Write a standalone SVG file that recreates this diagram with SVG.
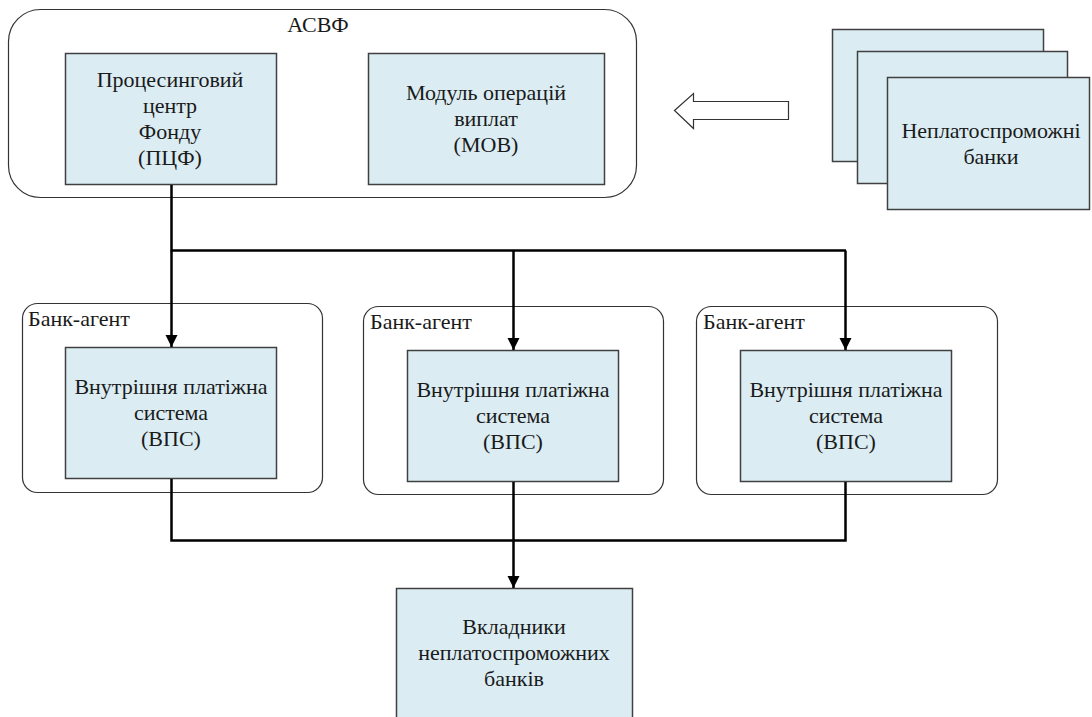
<svg xmlns="http://www.w3.org/2000/svg" width="1092" height="717" viewBox="0 0 1092 717">
<style>
.outer{fill:#ffffff;stroke:#333333;stroke-width:1.2}
.box{fill:#dbedf3;stroke:#404040;stroke-width:1.5}
text{font-family:'Liberation Serif','Times New Roman',serif;font-size:22px;fill:#1a1a1a}
.t{text-anchor:middle}
.conn{fill:none;stroke:#000000;stroke-width:2.5}
</style>
<defs>
<marker id="ah" markerWidth="12" markerHeight="14" refX="12" refY="7" orient="auto" markerUnits="userSpaceOnUse">
<path d="M0,1 L12,7 L0,13 Z" fill="#000000"/>
</marker>
</defs>
<rect width="1092" height="717" fill="#ffffff"/>

<g id="asvf">
<rect class="outer" x="8.5" y="9.5" width="628" height="188" rx="32" ry="32"/>
<text class="t" x="318" y="32">АСВФ</text>
</g>
<g id="pcf">
<rect class="box" x="65.5" y="53.5" width="211" height="131"/>
<text class="t" x="170" y="87">Процесинговий</text>
<text class="t" x="170" y="113">центр</text>
<text class="t" x="170" y="139">Фонду</text>
<text class="t" x="170" y="165">(ПЦФ)</text>
</g>
<g id="mov">
<rect class="box" x="368.5" y="53.5" width="236" height="131"/>
<text class="t" x="486" y="100">Модуль операцій</text>
<text class="t" x="486" y="126">виплат</text>
<text class="t" x="486" y="152">(МОВ)</text>
</g>

<g id="insolvent-banks">
<rect class="box" x="832.5" y="29.5" width="211" height="132"/>
<rect class="box" x="857.5" y="51.5" width="210" height="132"/>
<rect class="box" x="887.5" y="77.5" width="202" height="132"/>
<text class="t" x="991" y="138">Неплатоспроможні</text>
<text class="t" x="991" y="164">банки</text>
</g>
<g id="block-arrow">
<path d="M674.5,110.5 L693.5,93.5 L693.5,101.5 L788.5,101.5 L788.5,119.5 L693.5,119.5 L693.5,128.5 Z" fill="#ffffff" stroke="#333333" stroke-width="1.2"/>
</g>

<g id="bank1">
<rect class="outer" x="22.5" y="303.5" width="300" height="189" rx="15" ry="15"/>
<text x="28" y="326">Банк-агент</text>
<rect class="box" x="65.5" y="347.5" width="211" height="131"/>
<text class="t" x="171" y="394">Внутрішня платіжна</text>
<text class="t" x="171" y="420">система</text>
<text class="t" x="171" y="446">(ВПС)</text>
</g>
<g id="bank2">
<rect class="outer" x="363.5" y="306.5" width="300" height="188" rx="15" ry="15"/>
<text x="370" y="329">Банк-агент</text>
<rect class="box" x="407.5" y="350.5" width="211" height="131"/>
<text class="t" x="513" y="397">Внутрішня платіжна</text>
<text class="t" x="513" y="423">система</text>
<text class="t" x="513" y="449">(ВПС)</text>
</g>
<g id="bank3">
<rect class="outer" x="696.5" y="306.5" width="301" height="188" rx="15" ry="15"/>
<text x="703" y="329">Банк-агент</text>
<rect class="box" x="740.5" y="350.5" width="211" height="131"/>
<text class="t" x="846" y="397">Внутрішня платіжна</text>
<text class="t" x="846" y="423">система</text>
<text class="t" x="846" y="449">(ВПС)</text>
</g>

<g id="depositors">
<rect class="box" x="396.5" y="588.5" width="236" height="140"/>
<text class="t" x="514" y="634">Вкладники</text>
<text class="t" x="514" y="660">неплатоспроможних</text>
<text class="t" x="514" y="686">банків</text>
</g>

<g id="connectors">
<path class="conn" d="M171.5,185 L171.5,250.5 L846,250.5"/>
<path class="conn" d="M171.5,250.5 L171.5,347" marker-end="url(#ah)"/>
<path class="conn" d="M513.5,250.5 L513.5,350" marker-end="url(#ah)"/>
<path class="conn" d="M845.5,250.5 L845.5,350" marker-end="url(#ah)"/>
<path class="conn" d="M171.5,479 L171.5,540.5 L845.5,540.5 L845.5,482"/>
<path class="conn" d="M513.5,482 L513.5,588" marker-end="url(#ah)"/>
</g>
</svg>
